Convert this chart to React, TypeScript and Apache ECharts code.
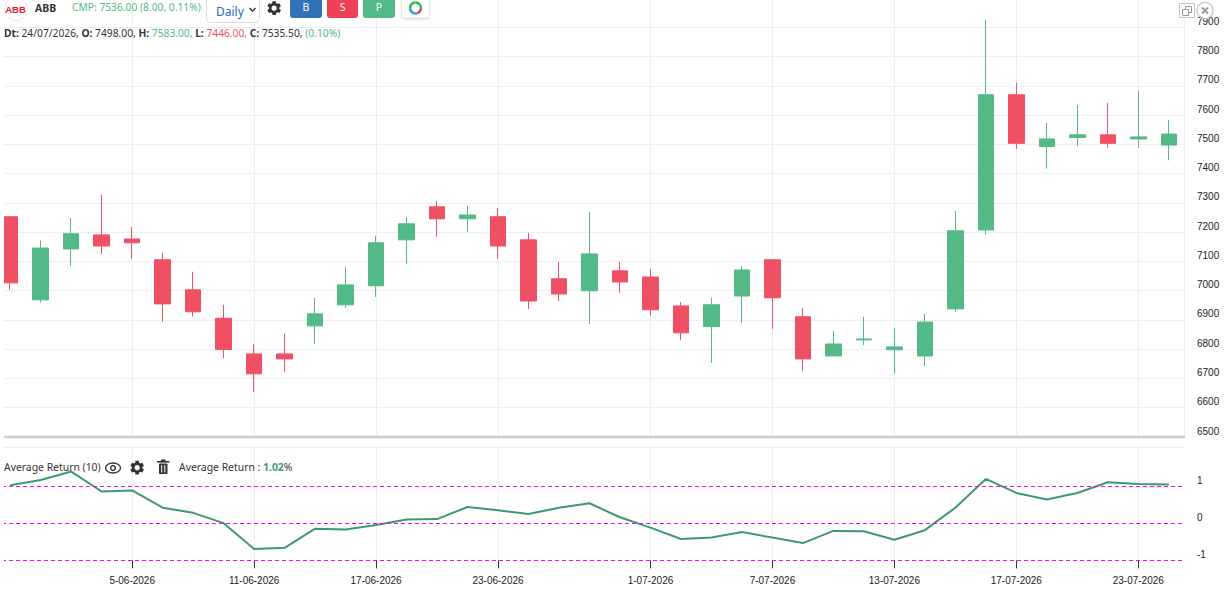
import React, { useEffect, useRef } from "react";
import * as echarts from "echarts";

const dates = ["1-06-2026","2-06-2026","3-06-2026","4-06-2026","5-06-2026","8-06-2026","9-06-2026","10-06-2026","11-06-2026","12-06-2026","15-06-2026","16-06-2026","17-06-2026","18-06-2026","19-06-2026","22-06-2026","23-06-2026","24-06-2026","25-06-2026","26-06-2026","30-06-2026","1-07-2026","2-07-2026","3-07-2026","6-07-2026","7-07-2026","8-07-2026","9-07-2026","10-07-2026","13-07-2026","14-07-2026","15-07-2026","16-07-2026","17-07-2026","20-07-2026","21-07-2026","22-07-2026","23-07-2026","24-07-2026"];
const opens = [7253,6969,7143,7191,7177,7106,7003,6906,6784,6784,6880,6952,7017,7174,7287,7246,7253,7174,7041,7000,7068,7047,6948,6878,6982,7106,6911,6777,6832,6798,6777,6938,7208,7670,7493,7524,7533,7519,7498];
const closes = [7027,7146,7195,7153,7164,6955,6928,6799,6716,6767,6921,7020,7164,7229,7246,7259,7153,6965,6989,7126,7030,6935,6856,6952,7071,6976,6767,6818,6835,6808,6893,7205,7670,7504,7519,7533,7504,7526,7535.5];
const lows = [7003,6959,7085,7126,7109,6894,6911,6770,6654,6723,6818,6941,6979,7092,7184,7201,7109,6938,6965,6887,6993,6914,6832,6753,6890,6870,6726,6777,6815,6716,6743,6928,7191,7485,7417,7495,7489,7489,7446];
const highs = [7253,7171,7249,7328,7218,7130,7065,6952,6818,6853,6976,7082,7188,7253,7307,7290,7283,7198,7099,7270,7099,7075,6962,6976,7085,7106,6941,6863,6911,6873,6921,7273,7926,7711,7574,7635,7642,7684,7583];
const avgReturn = [1.04,1.18,1.41,0.87,0.9,0.43,0.29,0.01,-0.69,-0.66,-0.14,-0.16,-0.04,0.11,0.12,0.45,0.36,0.26,0.43,0.55,0.17,-0.11,-0.42,-0.38,-0.23,-0.38,-0.53,-0.2,-0.21,-0.44,-0.18,0.43,1.21,0.83,0.65,0.83,1.12,1.07,1.06];
const bandLevels = [1, 0, -1];
const labelledIndexes = [4, 8, 12, 16, 21, 25, 29, 33, 37];

const GREEN = "#53b987";
const RED = "#ef5064";
const LINE = "#3d9a70";
const GRID = "#eeeeee";
const UI_FONT = "Noto Sans";
const AXIS_FONT = "Liberation Sans";
const UI_SIZE = 10.25;

const GEAR = "M19.14,12.94c0.04-0.3,0.06-0.61,0.06-0.94c0-0.32-0.02-0.64-0.07-0.94l2.03-1.58c0.18-0.14,0.23-0.41,0.12-0.61l-1.92-3.32c-0.12-0.22-0.37-0.29-0.59-0.22l-2.39,0.96c-0.5-0.38-1.03-0.7-1.62-0.94L14.4,2.81c-0.04-0.24-0.24-0.41-0.48-0.41h-3.84c-0.24,0-0.43,0.17-0.47,0.41L9.25,5.35C8.66,5.59,8.12,5.92,7.63,6.29L5.24,5.33c-0.22-0.08-0.47,0-0.59,0.22L2.74,8.87C2.62,9.08,2.66,9.34,2.86,9.48l2.03,1.58C4.84,11.36,4.8,11.69,4.8,12s0.02,0.64,0.07,0.94l-2.03,1.58c-0.18,0.14-0.23,0.41-0.12,0.61l1.92,3.32c0.12,0.22,0.37,0.29,0.59,0.22l2.39-0.96c0.5,0.38,1.03,0.7,1.62,0.94l0.36,2.54c0.05,0.24,0.24,0.41,0.48,0.41h3.84c0.24,0,0.44-0.17,0.47-0.41l0.36-2.54c0.59-0.24,1.13-0.56,1.62-0.94l2.39,0.96c0.22,0.08,0.47,0,0.59-0.22l1.92-3.32c0.12-0.22,0.07-0.47-0.12-0.61L19.14,12.94z M12,15.6c-1.98,0-3.6-1.62-3.6-3.6s1.62-3.6,3.6-3.6s3.6,1.62,3.6,3.6S13.98,15.6,12,15.6z";
echarts.graphic.registerShape("gearIcon", echarts.graphic.extendPath(GEAR, {}) as any);

const isLabelled = (i: number) => labelledIndexes.includes(i);

const text = (x: number, y: number, t: string, fill: string, fontSize = UI_SIZE, extra: any = {}) => ({
  type: "text", x, y, z: 120,
  style: { text: t, fill, fontSize, fontFamily: UI_FONT, verticalAlign: "middle", ...extra },
});
const button = (x: number, w: number, color: string, label: string) => [
  { type: "rect", z: 115, shape: { x, y: -4, width: w, height: 22, r: 3 }, style: { fill: color } },
  text(x + w / 2, 7, label, "#ffffff", 10.5, { align: "center" }),
];
const gear = (x: number, y: number, s: number, fill = "#333333") => ({
  type: "gearIcon", x, y, scaleX: s, scaleY: s, z: 120, style: { fill },
});
const ringArc = (a0: number, a1: number, stroke: string) => ({
  type: "arc", z: 120,
  shape: { cx: 415.5, cy: 8, r: 5.5, startAngle: a0, endAngle: a1 },
  style: { stroke, lineWidth: 2.5, fill: "none" },
});

const graphics: any[] = [
  { type: "rect", z: 110, shape: { x: 0, y: 0, width: 4, height: 591 }, style: { fill: "#ffffff" } },
  { type: "line", z: 111, shape: { x1: 4, y1: 437, x2: 1185, y2: 437 }, style: { stroke: "#cccccc", lineWidth: 2.5 } },
  { type: "line", z: 111, shape: { x1: 4, y1: 447.5, x2: 1184, y2: 447.5 }, style: { stroke: GRID, lineWidth: 1 } },
  { type: "circle", z: 115, shape: { cx: 16, cy: 9, r: 11.5 }, style: { fill: "#ffffff", stroke: "#e8e8e8", lineWidth: 1 } },
  text(15.5, 9, "ABB", "#e8132b", 9.5, { fontWeight: "bold", align: "center", fontFamily: "Liberation Sans" }),
  text(35, 8, "ABB", "#333333", 10.5, { fontWeight: "bold" }),
  text(72, 7, "CMP: 7536.00 (8.00, 0.11%)", GREEN),
  { type: "rect", z: 115, shape: { x: 206.5, y: -4, width: 53, height: 26.5, r: 4 }, style: { fill: "#ffffff", stroke: "#dcdcdc", lineWidth: 1 } },
  text(216, 11, "Daily", "#2a66c4", 12),
  { type: "polyline", z: 120, shape: { points: [[249.5, 8], [252.5, 11], [255.5, 8]] }, style: { stroke: "#333333", lineWidth: 1.4, fill: "none" } },
  gear(265.5, -0.5, 0.72),
  ...button(290, 32, "#3272b6", "B"),
  ...button(327, 31, "#ef4058", "S"),
  ...button(363, 32, GREEN, "P"),
  { type: "rect", z: 115, shape: { x: 402, y: -4, width: 27, height: 21.5, r: 3 }, style: { fill: "#ffffff", shadowColor: "rgba(0,0,0,0.25)", shadowBlur: 3, shadowOffsetY: 1 } },
  ringArc(-Math.PI / 2, 0.2, "#2fbb4f"),
  ringArc(0.2, 1.2, "#f03c4e"),
  ringArc(1.2, 3.0, "#29a3e0"),
  ringArc(3.0, 4.71, "#2fbb4f"),
  {
    type: "text", x: 4, y: 33, z: 120,
    style: {
      text: "{b|Dt:} {k|24/07/2026,} {b|O:} {k|7498.00,} {b|H:} {g|7583.00,} {b|L:} {r|7446.00,} {b|C:} {k|7535.50,} {g|(0.10%)}",
      fontSize: UI_SIZE, fontFamily: UI_FONT, verticalAlign: "middle",
      rich: {
        b: { fontWeight: "bold", fill: "#333333", fontSize: UI_SIZE, fontFamily: UI_FONT },
        k: { fill: "#333333", fontSize: UI_SIZE, fontFamily: UI_FONT },
        g: { fill: GREEN, fontSize: UI_SIZE, fontFamily: UI_FONT },
        r: { fill: RED, fontSize: UI_SIZE, fontFamily: UI_FONT },
      },
    },
  },
  { type: "rect", z: 120, shape: { x: 1179.5, y: 3.5, width: 15, height: 14 }, style: { fill: "#ffffff", stroke: "#c4c4c4", lineWidth: 1 } },
  { type: "rect", z: 121, shape: { x: 1185.5, y: 6.5, width: 6, height: 6 }, style: { fill: "none", stroke: "#999999", lineWidth: 1 } },
  { type: "rect", z: 121, shape: { x: 1182.5, y: 9.5, width: 6, height: 6 }, style: { fill: "#ffffff", stroke: "#999999", lineWidth: 1 } },
  { type: "circle", z: 120, shape: { cx: 1205, cy: 10.5, r: 8 }, style: { fill: "#ffffff", stroke: "#c4c4c4", lineWidth: 1.2 } },
  { type: "line", z: 121, shape: { x1: 1202, y1: 7.5, x2: 1208, y2: 13.5 }, style: { stroke: "#999999", lineWidth: 2 } },
  { type: "line", z: 121, shape: { x1: 1208, y1: 7.5, x2: 1202, y2: 13.5 }, style: { stroke: "#999999", lineWidth: 2 } },
  text(4, 467, "Average Return (10)", "#333333", 10.4),
  { type: "ellipse", z: 120, shape: { cx: 113, cy: 468, rx: 7.5, ry: 5 }, style: { fill: "none", stroke: "#333333", lineWidth: 1.4 } },
  { type: "circle", z: 120, shape: { cx: 113, cy: 468, r: 2.4 }, style: { fill: "none", stroke: "#333333", lineWidth: 1.4 } },
  gear(128.5, 459, 0.72),
  { type: "rect", z: 120, shape: { x: 159, y: 463.5, width: 8.5, height: 10.5, r: 1 }, style: { fill: "#333333" } },
  { type: "rect", z: 120, shape: { x: 157, y: 461, width: 12.5, height: 1.6 }, style: { fill: "#333333" } },
  { type: "rect", z: 120, shape: { x: 161, y: 459.5, width: 4.5, height: 1.6 }, style: { fill: "#333333" } },
  { type: "line", z: 121, shape: { x1: 161.7, y1: 465, x2: 161.7, y2: 472.5 }, style: { stroke: "#ffffff", lineWidth: 1 } },
  { type: "line", z: 121, shape: { x1: 164.8, y1: 465, x2: 164.8, y2: 472.5 }, style: { stroke: "#ffffff", lineWidth: 1 } },
  {
    type: "text", x: 179, y: 467, z: 120,
    style: {
      text: "{k|Average Return :} {g|1.02}{k|%}",
      fontSize: 10.4, fontFamily: UI_FONT, verticalAlign: "middle",
      rich: {
        k: { fill: "#333333", fontSize: 10.4, fontFamily: UI_FONT },
        g: { fill: LINE, fontSize: 10.4, fontWeight: "bold", fontFamily: UI_FONT },
      },
    },
  },
];

export default function App() {
  const ref = useRef<HTMLDivElement>(null);
  useEffect(() => {
    document.body.style.margin = "0";
    const chart = echarts.init(ref.current!, null, { renderer: "svg" });
    chart.setOption({
      animation: false,
      backgroundColor: "#ffffff",
      grid: [
        { left: -5, top: 0, width: 1189, height: 437, outerBoundsMode: "none" },
        { left: -5, top: 447, width: 1189, height: 113.4, outerBoundsMode: "none" },
      ],
      xAxis: [
        {
          type: "category", gridIndex: 0, data: dates,
          axisLine: { show: false, onZero: false }, axisTick: { show: false }, axisLabel: { show: false },
          splitLine: { show: true, alignWithLabel: true, interval: (i: number) => isLabelled(i), lineStyle: { color: GRID, width: 1 } },
        },
        {
          type: "category", gridIndex: 1, data: dates, position: "bottom",
          axisLine: { show: false, onZero: false },
          axisTick: { show: true, alignWithLabel: true, interval: (i: number) => isLabelled(i), length: 8, lineStyle: { color: "#333333", width: 1 } },
          axisLabel: { show: true, interval: (i: number) => isLabelled(i), margin: 15, fontSize: 10, fontFamily: AXIS_FONT, color: "#222222", verticalAlign: "top" },
          splitLine: { show: true, alignWithLabel: true, interval: (i: number) => isLabelled(i), lineStyle: { color: GRID, width: 1 } },
        },
      ],
      yAxis: [
        {
          type: "value", gridIndex: 0, position: "right", min: 6500, max: 7994, interval: 100,
          axisLine: { show: true, lineStyle: { color: GRID } }, axisTick: { show: false },
          axisLabel: { margin: 13, fontSize: 10, lineHeight: 12, fontFamily: AXIS_FONT, color: "#222222", verticalAlign: "bottom", showMaxLabel: false, showMinLabel: true, formatter: (v: number) => String(v) },
          splitLine: { show: true, showMaxLine: false, lineStyle: { color: GRID, width: 1 } },
        },
        {
          type: "value", gridIndex: 1, position: "right", min: -1, max: 2.077, interval: 1,
          axisLine: { show: false }, axisTick: { show: false },
          axisLabel: { margin: 13, fontSize: 10, lineHeight: 12, fontFamily: AXIS_FONT, color: "#222222", verticalAlign: "bottom", formatter: (v: number) => (v > 1 ? "" : String(v)) },
          splitLine: { show: false },
        },
      ],
      series: [
        {
          type: "candlestick", xAxisIndex: 0, yAxisIndex: 0, barWidth: 16,
          data: dates.map((_, i) => [opens[i], closes[i], lows[i], highs[i]]),
          itemStyle: { color: GREEN, color0: RED, borderColor: GREEN, borderColor0: RED, borderWidth: 1 },
        },
        {
          type: "line", xAxisIndex: 1, yAxisIndex: 1, data: avgReturn, symbol: "none", showSymbol: false,
          lineStyle: { color: LINE, width: 2 },
          markLine: {
            silent: true, symbol: "none", label: { show: false },
            lineStyle: { color: "#ff00ff", type: [4, 3], width: 1 },
            data: bandLevels.map((v) => ({ yAxis: v })),
          },
        },
      ],
      graphic: graphics,
    });
    return () => chart.dispose();
  }, []);
  return <div ref={ref} style={{ position: "fixed", left: 0, top: 0, width: 1226, height: 591 }} />;
}
